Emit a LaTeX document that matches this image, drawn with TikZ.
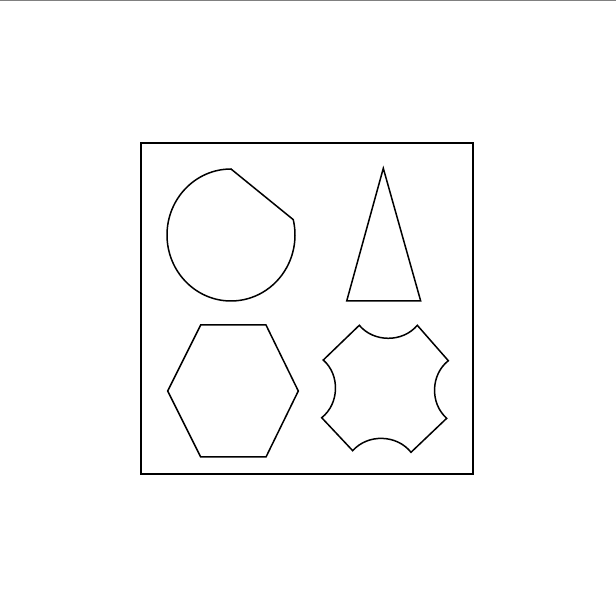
\documentclass[tikz,border=0pt]{standalone}
\begin{document}
\begin{tikzpicture}[x=1pt,y=1pt,
  shapeline/.style={draw=black,line width=1.5pt,line join=miter},
  frameline/.style={draw=black,line width=1.8pt}]
\useasboundingbox (0,0) rectangle (616,616);
\fill[white] (0,0) rectangle (616,616);
\draw[gray,line width=1.5pt] (0,615.3) -- (616,615.3);
% frame
\draw[frameline] (141,473) rectangle (473,142);
% clipped circle
\path[shapeline] (231,447) arc[start angle=90,end angle=373.5,x radius=64,y radius=66] -- cycle;
% triangle
\draw[shapeline] (383.3,447.7) -- (420.7,315) -- (346.7,315) -- cycle;
% hexagon
\draw[shapeline] (200.7,291) -- (266,291) -- (298.3,225) -- (266,159) -- (200.7,159) -- (167.7,225) -- cycle;
% concave octagon
\draw[shapeline] (359.3,290.7) to[bend right=50] (417.3,290.7) -- (448.3,255.3)
  to[bend right=50] (446.7,197.7) -- (411,163.7)
  to[bend right=50] (352.7,165.3) -- (321.7,198.3)
  to[bend right=50] (323.3,256) -- cycle;
\end{tikzpicture}
\end{document}
